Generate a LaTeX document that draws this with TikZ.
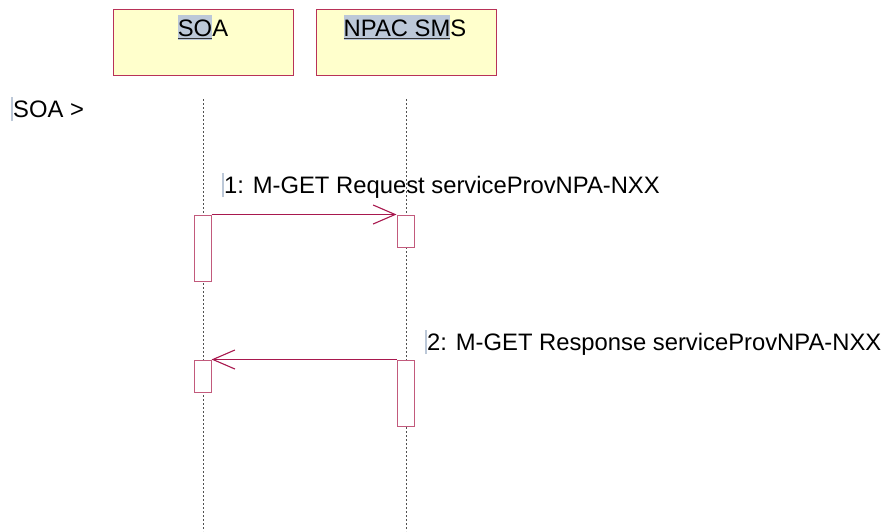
\documentclass[tikz,border=0pt]{standalone}
\usepackage{fontspec}
\setmainfont{Liberation Sans}
\usetikzlibrary{arrows.meta}
\definecolor{boxfill}{HTML}{FFFFCC}
\definecolor{boxline}{HTML}{B83258}
\definecolor{actline}{HTML}{C25A7C}
\definecolor{msgline}{HTML}{A8184E}
\definecolor{hlblue}{HTML}{BCC8D8}
\definecolor{lifegray}{HTML}{505050}
\newcommand\hlt[1]{\setbox0\hbox{#1}\rlap{\color{hlblue}\rule[-4pt]{\wd0}{25pt}}\rlap{\color{darkgray!80!black}\rule[-3pt]{\wd0}{1.3pt}}\box0}
\newcommand\cbar{\rlap{\hspace{-2.5pt}\color{hlblue}\rule[-4pt]{1.8pt}{24pt}}}
\begin{document}
\begin{tikzpicture}[x=1pt,y=1pt,
  every node/.style={font=\fontsize{23.8}{28}\selectfont},
  headbox/.style={draw=boxline,fill=boxfill,line width=1pt,minimum width=180pt,minimum height=66pt,inner sep=0pt},
  actbox/.style={draw=actline,fill=white,line width=1pt,minimum width=17pt,inner sep=0pt},
  lifeline/.style={draw=lifegray,line width=0.8pt,dash pattern=on 2pt off 2pt},
  msg/.style={draw=msgline,line width=1pt,-{Straight Barb[length=22pt,width=19pt,line width=1.1pt]}},
  lbl/.style={anchor=base west,inner sep=0pt,text=black}]
\useasboundingbox (0,0) rectangle (884,-531);
\fill[white] (0,0) rectangle (884,-531);
% lifelines
\coordinate (sA) at (203.5,-99);
\coordinate (eA) at (203.5,-531);
\coordinate (sB) at (406.5,-99);
\coordinate (eB) at (406.5,-531);
\draw[lifeline] (sA) -- (eA);
\draw[lifeline] (sB) -- (eB);
% heads
\node[headbox] (soa) at (203,-42) {};
\node[headbox] (npac) at (406,-42) {};
\node[lbl,anchor=base] (soat) at (203,-36) {\hlt{SO}A};
\node[lbl,anchor=base] (npact) at (405,-36) {\hlt{NPAC SM}S};
% state label
\node[lbl] (state) at (13,-117) {\cbar SOA >};
% activations
\node[actbox,minimum height=66pt] (a1) at (202.5,-248) {};
\node[actbox,minimum height=32pt] (b1) at (405.5,-231) {};
\node[actbox,minimum height=32pt] (a2) at (202.5,-376) {};
\node[actbox,minimum height=66pt] (b2) at (405.5,-393) {};
% messages
\draw[msg] (a1.north east) -- (b1.north west);
\draw[msg] (b2.north west) -- (a2.north east);
\node[lbl] (m1) at (224,-193) {\cbar 1: M-GET Request serviceProvNPA-NXX};
\node[lbl] (m2) at (427,-350) {\cbar 2: M-GET Response serviceProvNPA-NXX};
\end{tikzpicture}
\end{document}
